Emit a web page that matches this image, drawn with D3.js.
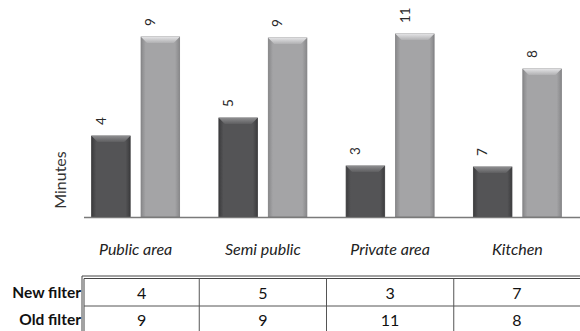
<!DOCTYPE html>
<html>
<head>
<meta charset="utf-8">
<script src="https://cdn.jsdelivr.net/npm/d3@7/dist/d3.min.js"></script>
<style>
  html, body { margin: 0; padding: 0; background: #fff; }
  svg { display: block; font-family: Lato, "Open Sans", sans-serif; }
</style>
</head>
<body>
<svg id="chart" width="580" height="331"></svg>
<script>
// ---- data ----
const categories = ["Public area", "Semi public", "Private area", "Kitchen"];
const seriesNames = ["New filter", "Old filter"];
// values printed on the chart / table
const newFilter = [4, 5, 3, 7];
const oldFilter = [9, 9, 11, 8];
// bar lengths as drawn in the picture (minutes on the drawn scale)
const newFilterBar = [4.05, 4.95, 2.55, 2.5];
const oldFilterBar = [9.0, 8.95, 9.15, 7.4];

const svg = d3.select("#chart");
const W = 580, H = 331;
const baseY = 217;

const x0 = d3.scalePoint().domain(categories).range([72, 581]).padding(0.5);
const x1 = d3.scaleBand().domain(seriesNames).range([-44, 44]).paddingInner(0.22);
const y = d3.scaleLinear().domain([0, 10]).range([baseY, 17]);

const defs = svg.append("defs");
function hgrad(id, edge, mid) {
  const g = defs.append("linearGradient").attr("id", id).attr("x1", "0").attr("x2", "1").attr("y1", "0").attr("y2", "0");
  g.append("stop").attr("offset", "0").attr("stop-color", edge);
  g.append("stop").attr("offset", "0.12").attr("stop-color", mid);
  g.append("stop").attr("offset", "0.88").attr("stop-color", mid);
  g.append("stop").attr("offset", "1").attr("stop-color", edge);
}
function vgrad(id, top, bot) {
  const g = defs.append("linearGradient").attr("id", id).attr("x1", "0").attr("x2", "0").attr("y1", "0").attr("y2", "1");
  g.append("stop").attr("offset", "0").attr("stop-color", top);
  g.append("stop").attr("offset", "1").attr("stop-color", bot);
}
hgrad("bodyNew", "#3c3c3e", "#545456");
hgrad("bodyOld", "#88888a", "#a4a4a6");
vgrad("bevNew", "#8c8c8e", "#5e5e60");
vgrad("bevOld", "#e2e2e4", "#b0b0b2");

const style = {
  "New filter": { body: "url(#bodyNew)", bevel: "url(#bevNew)", stroke: "#3a3a3c", vals: newFilterBar, labels: newFilter },
  "Old filter": { body: "url(#bodyOld)", bevel: "url(#bevOld)", stroke: "#7e7e80", vals: oldFilterBar, labels: oldFilter }
};

const bars = [];
categories.forEach((c, i) => {
  seriesNames.forEach(s => {
    bars.push({ cat: c, series: s, v: style[s].vals[i], label: style[s].labels[i] });
  });
});

const g = svg.append("g");
const b = 6;
const barG = g.selectAll("g.bar").data(bars).join("g").attr("class", "bar");
barG.each(function(d) {
  const sel = d3.select(this);
  const x = x0(d.cat) + x1(d.series);
  const w = x1.bandwidth();
  const top = y(d.v);
  const h = baseY - top;
  const st = style[d.series];
  sel.append("rect").attr("x", x).attr("y", top).attr("width", w).attr("height", h)
    .attr("fill", st.body).attr("stroke", st.stroke).attr("stroke-width", 0.8);
  sel.append("path")
    .attr("d", `M${x},${top}L${x + w},${top}L${x + w - b},${top + b}L${x + b},${top + b}Z`)
    .attr("fill", st.bevel);
  sel.append("text")
    .attr("transform", `translate(${x + 9},${top - 11}) rotate(-90)`)
    .attr("dominant-baseline", "central")
    .attr("font-size", 13.5)
    .attr("fill", "#2a2a2a")
    .text(d.label);
});

// baseline
svg.append("line").attr("x1", 84).attr("x2", 580).attr("y1", baseY + 0.5).attr("y2", baseY + 0.5)
  .attr("stroke", "#7a7a7a").attr("stroke-width", 1.5);

// y label
svg.append("text").attr("transform", `translate(59,180) rotate(-90)`)
  .attr("text-anchor", "middle").attr("dominant-baseline", "central")
  .attr("font-size", 16).attr("fill", "#333").text("Minutes");

// category labels
svg.selectAll("text.cat").data(categories).join("text").attr("class", "cat")
  .attr("x", d => x0(d)).attr("y", 248)
  .attr("text-anchor", "middle").attr("dominant-baseline", "central")
  .attr("font-size", 16).attr("font-style", "italic").attr("fill", "#222")
  .text(d => d);

// table
const tLeft = 84, tRight = 580, tTop = 277, rowSep = 306;
const bounds = [tLeft];
for (let i = 0; i < categories.length - 1; i++) bounds.push((x0(categories[i]) + x0(categories[i + 1])) / 2);
bounds.push(tRight);

const tg = svg.append("g");
tg.append("line").attr("x1", tLeft - 2).attr("x2", tRight).attr("y1", tTop - 1).attr("y2", tTop - 1).attr("stroke", "#444").attr("stroke-width", 1);
tg.append("line").attr("x1", tLeft).attr("x2", tRight).attr("y1", tTop + 1.5).attr("y2", tTop + 1.5).attr("stroke", "#444").attr("stroke-width", 1);
tg.append("line").attr("x1", tLeft - 2).attr("x2", tLeft - 2).attr("y1", tTop - 1).attr("y2", H).attr("stroke", "#444").attr("stroke-width", 1);
tg.append("line").attr("x1", tLeft).attr("x2", tLeft).attr("y1", tTop + 1.5).attr("y2", H).attr("stroke", "#444").attr("stroke-width", 1);
tg.append("line").attr("x1", tLeft).attr("x2", tRight).attr("y1", rowSep).attr("y2", rowSep).attr("stroke", "#555").attr("stroke-width", 1);
tg.selectAll("line.col").data(bounds.slice(1, -1)).join("line").attr("class", "col")
  .attr("x1", d => d).attr("x2", d => d).attr("y1", tTop + 1.5).attr("y2", H)
  .attr("stroke", "#555").attr("stroke-width", 1);

const rows = [{ name: "New filter", vals: newFilter, cy: 292 }, { name: "Old filter", vals: oldFilter, cy: 319 }];
rows.forEach(r => {
  tg.append("text").attr("x", 81).attr("y", r.cy).attr("text-anchor", "end").attr("dominant-baseline", "central")
    .attr("font-size", 15.5).attr("font-weight", "bold").attr("fill", "#111").text(r.name);
  tg.selectAll(null).data(r.vals).join("text")
    .attr("x", (d, i) => (bounds[i] + bounds[i + 1]) / 2).attr("y", r.cy)
    .attr("text-anchor", "middle").attr("dominant-baseline", "central")
    .attr("font-size", 16).attr("fill", "#111").text(d => d);
});
</script>
</body>
</html>
